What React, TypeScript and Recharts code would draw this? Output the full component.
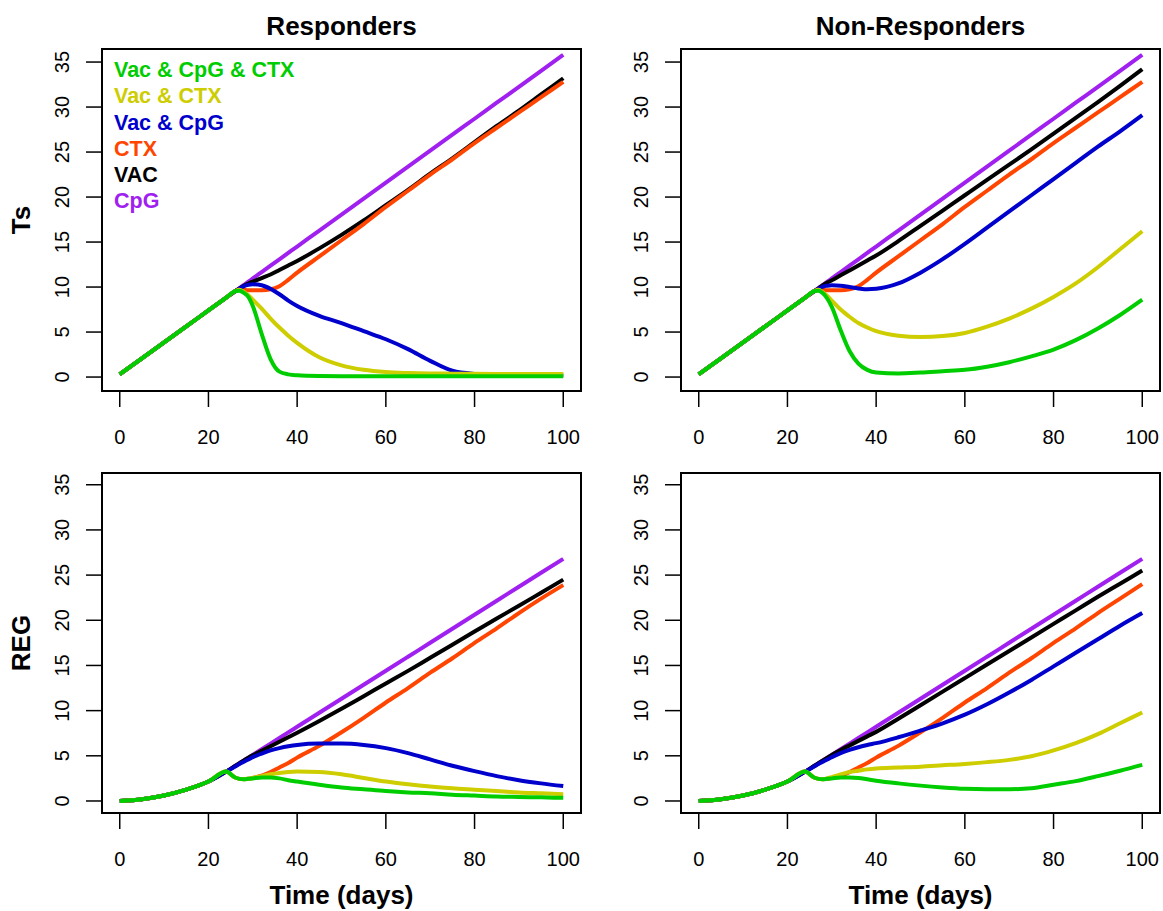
import React from 'react';
import { LineChart, Line, XAxis, YAxis, ReferenceArea, Legend, Label } from 'recharts';

const TIME = [0, 5, 10, 15, 20, 24, 26, 27, 28, 29, 30, 32, 34, 36, 38, 40, 45, 50, 55, 60, 65, 70, 75, 80, 85, 90, 95, 100];
const X_TICKS = [0, 20, 40, 60, 80, 100];
const Y_TICKS = [0, 5, 10, 15, 20, 25, 30, 35];

// Ts: common growth before treatment (t = 0..26)
const TS_BASE = [0.3, 2.08, 3.85, 5.63, 7.4, 8.82, 9.53];
// REG: common growth before treatment (t = 0..24)
const REG_BASE = [0, 0.2, 0.6, 1.25, 2.15, 3.25];

// Responders, Ts
const TS_R_CPG = [...TS_BASE, 9.89, 10.24, 10.6, 10.95, 11.66, 12.37, 13.08, 13.79, 14.5, 16.28, 18.05, 19.83, 21.6, 23.38, 25.15, 26.93, 28.7, 30.48, 32.25, 34.03, 35.8];
const TS_R_VAC = [...TS_BASE, 9.85, 10.15, 10.4, 10.6, 11.0, 11.4, 11.9, 12.4, 12.9, 14.3, 15.8, 17.4, 19.1, 20.8, 22.6, 24.3, 26.1, 27.9, 29.6, 31.4, 33.2];
const TS_R_CTX = [...TS_BASE, 9.75, 9.7, 9.65, 9.65, 9.65, 9.75, 10.1, 10.8, 11.6, 13.4, 15.2, 17.0, 18.9, 20.7, 22.5, 24.2, 26.0, 27.7, 29.4, 31.1, 32.8];
const TS_R_VAC_CPG = [...TS_BASE, 9.8, 10.1, 10.25, 10.3, 10.2, 9.8, 9.2, 8.5, 7.9, 6.8, 6.0, 5.1, 4.2, 3.1, 1.8, 0.7, 0.35, 0.25, 0.22, 0.2, 0.2];
const TS_R_VAC_CTX = [...TS_BASE, 9.7, 9.45, 9.1, 8.6, 7.6, 6.5, 5.5, 4.6, 3.8, 2.2, 1.3, 0.8, 0.55, 0.45, 0.4, 0.38, 0.36, 0.35, 0.35, 0.35, 0.35];
const TS_R_ALL = [...TS_BASE, 9.6, 9.35, 8.9, 7.9, 4.8, 2.0, 0.6, 0.3, 0.2, 0.12, 0.1, 0.1, 0.1, 0.1, 0.1, 0.1, 0.1, 0.1, 0.1, 0.1, 0.1];

// Non-Responders, Ts
const TS_N_CPG = TS_R_CPG;
const TS_N_VAC = [...TS_BASE, 9.85, 10.2, 10.5, 10.75, 11.3, 11.85, 12.4, 12.95, 13.5, 15.1, 16.8, 18.5, 20.2, 21.9, 23.6, 25.3, 27.05, 28.8, 30.55, 32.35, 34.2];
const TS_N_CTX = TS_R_CTX;
const TS_N_VAC_CPG = [...TS_BASE, 9.8, 10.05, 10.15, 10.2, 10.15, 10.0, 9.85, 9.75, 9.8, 10.4, 11.6, 13.1, 14.8, 16.6, 18.4, 20.2, 22.0, 23.8, 25.6, 27.3, 29.1];
const TS_N_VAC_CTX = [...TS_BASE, 9.7, 9.4, 9.0, 8.5, 7.5, 6.7, 6.0, 5.5, 5.1, 4.6, 4.45, 4.55, 4.9, 5.6, 6.5, 7.6, 8.9, 10.4, 12.2, 14.2, 16.2];
const TS_N_ALL = [...TS_BASE, 9.6, 9.3, 8.7, 7.8, 5.2, 2.9, 1.5, 0.8, 0.5, 0.4, 0.5, 0.65, 0.8, 1.15, 1.65, 2.3, 3.05, 4.1, 5.4, 6.9, 8.6];

// Responders, REG
const REG_R_CPG = [...REG_BASE, 3.87, 4.18, 4.49, 4.8, 5.11, 5.73, 6.35, 6.97, 7.59, 8.21, 9.76, 11.31, 12.86, 14.41, 15.96, 17.51, 19.06, 20.61, 22.16, 23.71, 25.26, 26.8];
const REG_R_VAC = [...REG_BASE, 3.87, 4.18, 4.49, 4.78, 5.05, 5.55, 6.05, 6.55, 7.05, 7.55, 8.85, 10.2, 11.6, 13.0, 14.4, 15.85, 17.3, 18.75, 20.2, 21.6, 23.05, 24.5];
const REG_R_CTX = [...REG_BASE, 2.6, 2.45, 2.4, 2.45, 2.55, 2.8, 3.2, 3.7, 4.2, 4.8, 6.1, 7.6, 9.2, 10.9, 12.5, 14.2, 15.8, 17.5, 19.1, 20.8, 22.4, 23.9];
const REG_R_VAC_CPG = [...REG_BASE, 3.8, 4.1, 4.35, 4.6, 4.85, 5.25, 5.6, 5.85, 6.05, 6.2, 6.35, 6.35, 6.2, 5.85, 5.3, 4.6, 3.9, 3.3, 2.75, 2.3, 1.95, 1.65];
const REG_R_VAC_CTX = [...REG_BASE, 2.6, 2.45, 2.4, 2.45, 2.55, 2.75, 2.95, 3.1, 3.2, 3.25, 3.2, 2.95, 2.55, 2.15, 1.85, 1.6, 1.4, 1.25, 1.1, 0.95, 0.85, 0.75];
const REG_R_ALL = [...REG_BASE, 2.6, 2.45, 2.4, 2.45, 2.5, 2.6, 2.6, 2.5, 2.3, 2.15, 1.8, 1.5, 1.3, 1.1, 0.95, 0.85, 0.7, 0.6, 0.5, 0.45, 0.4, 0.35];

// Non-Responders, REG
const REG_N_CPG = REG_R_CPG;
const REG_N_VAC = [...REG_BASE, 3.87, 4.18, 4.49, 4.8, 5.1, 5.65, 6.15, 6.65, 7.15, 7.65, 9.1, 10.6, 12.1, 13.6, 15.1, 16.6, 18.1, 19.6, 21.1, 22.6, 24.05, 25.5];
const REG_N_CTX = [...REG_BASE, 2.6, 2.45, 2.4, 2.45, 2.55, 2.8, 3.2, 3.7, 4.2, 4.8, 6.1, 7.6, 9.2, 10.9, 12.5, 14.2, 15.8, 17.5, 19.1, 20.8, 22.4, 24.0];
const REG_N_VAC_CPG = [...REG_BASE, 3.8, 4.1, 4.35, 4.6, 4.85, 5.3, 5.65, 5.95, 6.2, 6.4, 7.05, 7.8, 8.6, 9.55, 10.7, 12.0, 13.4, 14.9, 16.4, 17.9, 19.4, 20.8];
const REG_N_VAC_CTX = [...REG_BASE, 2.6, 2.45, 2.4, 2.5, 2.65, 2.95, 3.2, 3.35, 3.5, 3.6, 3.7, 3.8, 3.95, 4.1, 4.3, 4.55, 4.95, 5.6, 6.4, 7.4, 8.6, 9.8];
const REG_N_ALL = [...REG_BASE, 2.6, 2.45, 2.4, 2.45, 2.5, 2.6, 2.6, 2.55, 2.4, 2.25, 1.95, 1.7, 1.5, 1.35, 1.3, 1.3, 1.4, 1.8, 2.2, 2.75, 3.35, 4.0];

// drawing order: first drawn is at the bottom
const SERIES = [
  { key: 'cpg', name: 'CpG', color: '#A020F0' },
  { key: 'vac', name: 'VAC', color: '#000000' },
  { key: 'ctx', name: 'CTX', color: '#FF4500' },
  { key: 'vacCpg', name: 'Vac & CpG', color: '#0000CD' },
  { key: 'vacCtx', name: 'Vac & CTX', color: '#CDCD00' },
  { key: 'all', name: 'Vac & CpG & CTX', color: '#00CD00' },
];

const FONT = '"Liberation Sans", Arial, Helvetica, sans-serif';

function buildRows(cols: Record<string, number[]>) {
  return TIME.map((t, i) => {
    const row: Record<string, number> = { t };
    Object.keys(cols).forEach((k) => { row[k] = cols[k][i]; });
    return row;
  });
}

const tsResp = buildRows({ cpg: TS_R_CPG, vac: TS_R_VAC, ctx: TS_R_CTX, vacCpg: TS_R_VAC_CPG, vacCtx: TS_R_VAC_CTX, all: TS_R_ALL });
const tsNon = buildRows({ cpg: TS_N_CPG, vac: TS_N_VAC, ctx: TS_N_CTX, vacCpg: TS_N_VAC_CPG, vacCtx: TS_N_VAC_CTX, all: TS_N_ALL });
const regResp = buildRows({ cpg: REG_R_CPG, vac: REG_R_VAC, ctx: REG_R_CTX, vacCpg: REG_R_VAC_CPG, vacCtx: REG_R_VAC_CTX, all: REG_R_ALL });
const regNon = buildRows({ cpg: REG_N_CPG, vac: REG_N_VAC, ctx: REG_N_CTX, vacCpg: REG_N_VAC_CPG, vacCtx: REG_N_VAC_CTX, all: REG_N_ALL });

const XTick = ({ x, y, payload }: any) => (
  <text x={x} y={y + 35} textAnchor="middle" fontSize={20} fontFamily={FONT} fill="#000">{payload.value}</text>
);

const YTick = ({ x, y, payload }: any) => {
  const bx = x - 15;
  return (
    <text x={bx} y={y} transform={`rotate(-90, ${bx}, ${y})`} textAnchor="middle" fontSize={20} fontFamily={FONT} fill="#000">
      {payload.value}
    </text>
  );
};

const LegendBox = () => (
  <div style={{ fontFamily: FONT, fontWeight: 'bold', fontSize: 21.5, lineHeight: '26.3px', whiteSpace: 'nowrap' }}>
    {[...SERIES].reverse().map((s) => (
      <div key={s.key} style={{ color: s.color }}>{s.name}</div>
    ))}
  </div>
);

interface PanelProps {
  left: number;
  top: number;
  width: number;
  height: number;
  margin: { top: number; right: number; bottom: number; left: number };
  xAxisHeight: number;
  data: Record<string, number>[];
  yDomain: [number, number];
  title?: string;
  yLabel?: string;
  xLabel?: string;
  showLegend?: boolean;
}

function Panel({ left, top, width, height, margin, xAxisHeight, data, yDomain, title, yLabel, xLabel, showLegend }: PanelProps) {
  return (
    <div style={{ position: 'absolute', left, top }}>
      <LineChart width={width} height={height} data={data} margin={margin}>
        <XAxis
          dataKey="t"
          type="number"
          domain={[-4, 104]}
          ticks={X_TICKS}
          interval={0}
          allowDataOverflow
          height={xAxisHeight}
          tickSize={16}
          axisLine={false}
          tickLine={{ stroke: '#000', strokeWidth: 1.5 }}
          tick={XTick}
        >
          {xLabel && (
            <Label
              content={(p: any) => (
                <text x={p.viewBox.x + p.viewBox.width / 2} y={p.viewBox.y + 91} textAnchor="middle" fontSize={26} fontWeight="bold" fontFamily={FONT} fill="#000">
                  {xLabel}
                </text>
              )}
            />
          )}
        </XAxis>
        <YAxis
          type="number"
          domain={yDomain}
          ticks={Y_TICKS}
          interval={0}
          allowDataOverflow
          width={60}
          tickSize={16}
          axisLine={false}
          tickLine={{ stroke: '#000', strokeWidth: 1.5 }}
          tick={YTick}
        >
          {yLabel && (
            <Label
              content={(p: any) => {
                const lx = p.viewBox.x - 12;
                const ly = p.viewBox.y + p.viewBox.height / 2;
                return (
                  <text x={lx} y={ly} transform={`rotate(-90, ${lx}, ${ly})`} textAnchor="middle" fontSize={26} fontWeight="bold" fontFamily={FONT} fill="#000">
                    {yLabel}
                  </text>
                );
              }}
            />
          )}
        </YAxis>
        <ReferenceArea
          x1={-4}
          x2={104}
          y1={yDomain[0]}
          y2={yDomain[1]}
          fill="none"
          fillOpacity={0}
          stroke="#000"
          strokeWidth={2}
          ifOverflow="visible"
          label={title ? (p: any) => (
            <text x={p.viewBox.x + p.viewBox.width / 2} y={p.viewBox.y - 14} textAnchor="middle" fontSize={26} fontWeight="bold" fontFamily={FONT} fill="#000">
              {title}
            </text>
          ) : undefined}
        />
        {SERIES.map((s) => (
          <Line
            key={s.key}
            dataKey={s.key}
            name={s.name}
            type="monotone"
            stroke={s.color}
            strokeWidth={4}
            dot={false}
            activeDot={false}
            isAnimationActive={false}
          />
        ))}
        {showLegend && (
          <Legend layout="vertical" align="center" verticalAlign="middle" wrapperStyle={{ left: 114, top: 57, width: 'auto', height: 'auto' }} content={LegendBox} />
        )}
      </LineChart>
    </div>
  );
}

const TOP_DOMAIN: [number, number] = [-1.55, 36.45];
const BOTTOM_DOMAIN: [number, number] = [-1.33, 36.3];

export default function App() {
  return (
    <div style={{ position: 'absolute', left: 0, top: 0, width: 1163, height: 911, background: '#fff', overflow: 'hidden', fontFamily: FONT }}>
      <Panel left={0} top={0} width={600} height={455} margin={{ top: 49, right: 19, bottom: 0, left: 42 }} xAxisHeight={64}
        data={tsResp} yDomain={TOP_DOMAIN} title="Responders" yLabel="Ts" showLegend />
      <Panel left={579} top={0} width={584} height={455} margin={{ top: 49, right: 3, bottom: 0, left: 42 }} xAxisHeight={64}
        data={tsNon} yDomain={TOP_DOMAIN} title="Non-Responders" />
      <Panel left={0} top={455} width={600} height={456} margin={{ top: 18, right: 19, bottom: 0, left: 42 }} xAxisHeight={98}
        data={regResp} yDomain={BOTTOM_DOMAIN} yLabel="REG" xLabel="Time (days)" />
      <Panel left={579} top={455} width={584} height={456} margin={{ top: 18, right: 3, bottom: 0, left: 42 }} xAxisHeight={98}
        data={regNon} yDomain={BOTTOM_DOMAIN} xLabel="Time (days)" />
    </div>
  );
}
